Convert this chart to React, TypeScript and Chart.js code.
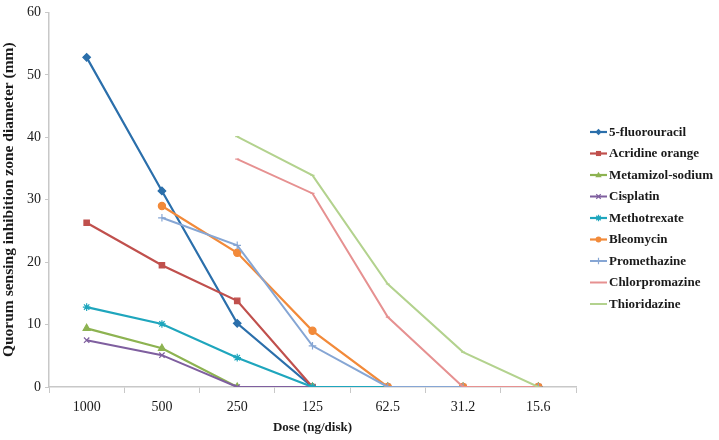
import React, { useEffect, useRef } from "react";
import { Chart, registerables } from "chart.js";

Chart.register(...registerables);

const categories = ["1000", "500", "250", "125", "62.5", "31.2", "15.6"];
const seriesNames = [
  "5-fluorouracil",
  "Acridine orange",
  "Metamizol-sodium",
  "Cisplatin",
  "Methotrexate",
  "Bleomycin",
  "Promethazine",
  "Chlorpromazine",
  "Thioridazine",
];
const fluorouracil = [52.8, 31.4, 10.2, 0, 0, 0, 0];
const acridineOrange = [26.3, 19.5, 13.8, 0, 0, 0, 0];
const metamizolSodium = [9.4, 6.2, 0, 0, 0, 0, 0];
const cisplatin = [7.5, 5.1, 0, 0, 0, 0, 0];
const methotrexate = [12.8, 10.1, 4.7, 0, 0, 0, 0];
const bleomycin = [null, 29.0, 21.5, 9.0, 0, 0, 0];
const promethazine = [null, 27.1, 22.7, 6.6, 0, 0, 0];
const chlorpromazine = [null, null, 36.5, 31.0, 11.2, 0, 0];
const thioridazine = [null, null, 40.1, 33.9, 16.5, 5.6, 0];
const seriesValues = [
  fluorouracil,
  acridineOrange,
  metamizolSodium,
  cisplatin,
  methotrexate,
  bleomycin,
  promethazine,
  chlorpromazine,
  thioridazine,
];
const yMin = 0;
const yMax = 60;
const yStep = 10;

const colors = [
  "#2b6fab",
  "#c0504d",
  "#8db351",
  "#7f5f9f",
  "#1fa6bd",
  "#f28a3a",
  "#86a6d4",
  "#e69191",
  "#b3d28e",
];
const pointStyles: any[] = [
  "rectRot",
  "rect",
  "triangle",
  "crossRot",
  "star",
  "circle",
  "cross",
  "line",
  "line",
];
const pointRadii = [3.8, 3.8, 4, 3.8, 3.8, 3.6, 3.8, 2, 2];
const lineWidths = [2.2, 2.2, 2.2, 2, 2.2, 2.2, 2, 2, 2];

const SERIF = "'Liberation Serif', 'Times New Roman', serif";

function drawMarker(ctx: CanvasRenderingContext2D, style: string, x: number, y: number, r: number, color: string) {
  ctx.save();
  ctx.fillStyle = color;
  ctx.strokeStyle = color;
  ctx.lineWidth = 1.2;
  ctx.beginPath();
  switch (style) {
    case "rectRot":
      ctx.moveTo(x, y - r);
      ctx.lineTo(x + r, y);
      ctx.lineTo(x, y + r);
      ctx.lineTo(x - r, y);
      ctx.closePath();
      ctx.fill();
      break;
    case "rect":
      ctx.rect(x - r * 0.8, y - r * 0.8, r * 1.6, r * 1.6);
      ctx.fill();
      break;
    case "triangle":
      ctx.moveTo(x, y - r);
      ctx.lineTo(x + r, y + r * 0.7);
      ctx.lineTo(x - r, y + r * 0.7);
      ctx.closePath();
      ctx.fill();
      break;
    case "crossRot":
      ctx.moveTo(x - r * 0.7, y - r * 0.7);
      ctx.lineTo(x + r * 0.7, y + r * 0.7);
      ctx.moveTo(x + r * 0.7, y - r * 0.7);
      ctx.lineTo(x - r * 0.7, y + r * 0.7);
      ctx.stroke();
      break;
    case "star":
      ctx.moveTo(x - r * 0.7, y - r * 0.7);
      ctx.lineTo(x + r * 0.7, y + r * 0.7);
      ctx.moveTo(x + r * 0.7, y - r * 0.7);
      ctx.lineTo(x - r * 0.7, y + r * 0.7);
      ctx.moveTo(x, y - r);
      ctx.lineTo(x, y + r);
      ctx.stroke();
      break;
    case "circle":
      ctx.arc(x, y, r * 0.9, 0, Math.PI * 2);
      ctx.fill();
      break;
    case "cross":
      ctx.moveTo(x, y - r);
      ctx.lineTo(x, y + r);
      ctx.moveTo(x - r, y);
      ctx.lineTo(x + r, y);
      ctx.stroke();
      break;
    default:
      break;
  }
  ctx.restore();
}

const legendPlugin = {
  id: "customLegend",
  afterDraw(chart: any) {
    const ctx: CanvasRenderingContext2D = chart.ctx;
    const x0 = 590;
    const top = 132;
    const gap = 21.5;
    ctx.save();
    seriesNames.forEach((name, i) => {
      const y = top + i * gap;
      ctx.strokeStyle = colors[i];
      ctx.lineWidth = lineWidths[i];
      ctx.beginPath();
      ctx.moveTo(x0, y);
      ctx.lineTo(x0 + 17, y);
      ctx.stroke();
      drawMarker(ctx, pointStyles[i], x0 + 8.5, y, 3.2, colors[i]);
      ctx.fillStyle = "#1a1a1a";
      ctx.font = `bold 13px ${SERIF}`;
      ctx.textBaseline = "middle";
      ctx.textAlign = "left";
      ctx.fillText(name, x0 + 19, y + 0.5);
    });
    ctx.restore();
  },
};

export default function App() {
  const ref = useRef<HTMLCanvasElement | null>(null);
  useEffect(() => {
    document.body.style.margin = "0";
    if (!ref.current) return;
    const chart = new Chart(ref.current, {
      type: "line",
      data: {
        labels: categories,
        datasets: seriesNames.map((name, i) => ({
          label: name,
          data: seriesValues[i] as any,
          borderColor: colors[i],
          backgroundColor: colors[i],
          borderWidth: lineWidths[i],
          pointStyle: pointStyles[i],
          pointRadius: pointRadii[i],
          pointBorderWidth: 1.2,
          pointBorderColor: colors[i],
          pointBackgroundColor: colors[i],
          tension: 0,
          spanGaps: false,
          order: seriesNames.length - i,
        })),
      },
      options: {
        responsive: false,
        animation: false,
        layout: { padding: { top: 11, right: 143, left: 0, bottom: 0 } },
        plugins: {
          legend: { display: false },
          tooltip: { enabled: false },
        },
        scales: {
          x: {
            offset: true,
            grid: {
              drawOnChartArea: false,
              drawTicks: true,
              tickLength: 6,
              color: "#c8c8c8",
              offset: true,
            },
            border: { color: "#c8c8c8", width: 1.5 },
            ticks: {
              color: "#1a1a1a",
              font: { family: SERIF, size: 14 },
              padding: 6,
            },
            title: {
              display: true,
              text: "Dose (ng/disk)",
              color: "#1a1a1a",
              font: { family: SERIF, size: 13, weight: "bold" },
              padding: { top: 2, bottom: 5 },
            },
            afterFit(scale: any) {
              scale.height = 53;
            },
          },
          y: {
            min: yMin,
            max: yMax,
            ticks: {
              stepSize: yStep,
              color: "#1a1a1a",
              font: { family: SERIF, size: 14 },
              padding: 4,
            },
            grid: {
              drawOnChartArea: false,
              drawTicks: true,
              tickLength: 4,
              color: "#c8c8c8",
            },
            border: { color: "#c8c8c8", width: 1.5 },
            title: {
              display: true,
              text: "Quorum sensing inhibition zone diameter (mm)",
              color: "#1a1a1a",
              font: { family: SERIF, size: 15.5, weight: "bold" },
              padding: { top: 0, bottom: 2 },
            },
            afterFit(scale: any) {
              scale.width = 49;
            },
          },
        },
      },
      plugins: [legendPlugin],
    });
    return () => chart.destroy();
  }, []);
  return <canvas ref={ref} width={719} height={440} />;
}
